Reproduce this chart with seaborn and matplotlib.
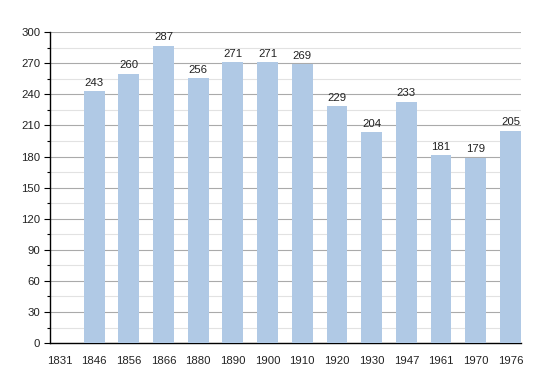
import matplotlib
matplotlib.use("Agg")
import matplotlib.pyplot as plt
import seaborn as sns
import pandas as pd
from matplotlib.ticker import MultipleLocator

# --- DATI ---
years = ["1831", "1846", "1856", "1866", "1880", "1890", "1900",
         "1910", "1920", "1930", "1947", "1961", "1970", "1976"]
population = [None, 243, 260, 287, 256, 271, 271, 269, 229, 204, 233, 181, 179, 205]

BAR_COLOR = "#b0c9e5"

df = pd.DataFrame({"Year": years, "Pop": population})

sns.set_theme(style="white")
plt.rcParams["font.family"] = ["Liberation Sans", "DejaVu Sans"]

fig = plt.figure(figsize=(5.5, 3.73), dpi=100)
ax = fig.add_axes([0.091, 0.080, 0.856, 0.834])

sns.barplot(data=df, x="Year", y="Pop", color=BAR_COLOR, width=0.6,
            saturation=1, linewidth=0, edgecolor="none", ax=ax, zorder=3)

# etichette valori
for i, v in enumerate(population):
    if v is None:
        continue
    ax.text(i, v + 3, str(v), ha="center", va="bottom", fontsize=8.2, color="#222222")

ax.set_ylim(0, 300)
ax.set_xlim(-0.27, 13.3)
ax.yaxis.set_major_locator(MultipleLocator(30))
ax.yaxis.set_minor_locator(MultipleLocator(15))
ax.grid(axis="y", which="major", color="#aaaaaa", linewidth=0.8, zorder=0)
ax.grid(axis="y", which="minor", color="#e2e2e2", linewidth=0.8, zorder=0)
ax.set_axisbelow(True)

for s in ["top", "right"]:
    ax.spines[s].set_visible(False)
ax.spines["left"].set_color("black")
ax.spines["bottom"].set_color("black")
ax.spines["left"].set_linewidth(1)
ax.spines["bottom"].set_linewidth(1)

ax.tick_params(axis="y", which="major", left=True, length=4, width=0.8,
               labelsize=8.2, pad=3, colors="black")
ax.tick_params(axis="y", which="minor", left=True, length=2.5, width=0.8, colors="black")
ax.tick_params(axis="x", bottom=False, labelsize=8.2, pad=3, colors="black")
for lbl in ax.get_xticklabels() + ax.get_yticklabels():
    lbl.set_color("#222222")

ax.set_xlabel("")
ax.set_ylabel("")

fig.savefig("out.png", dpi=100)
